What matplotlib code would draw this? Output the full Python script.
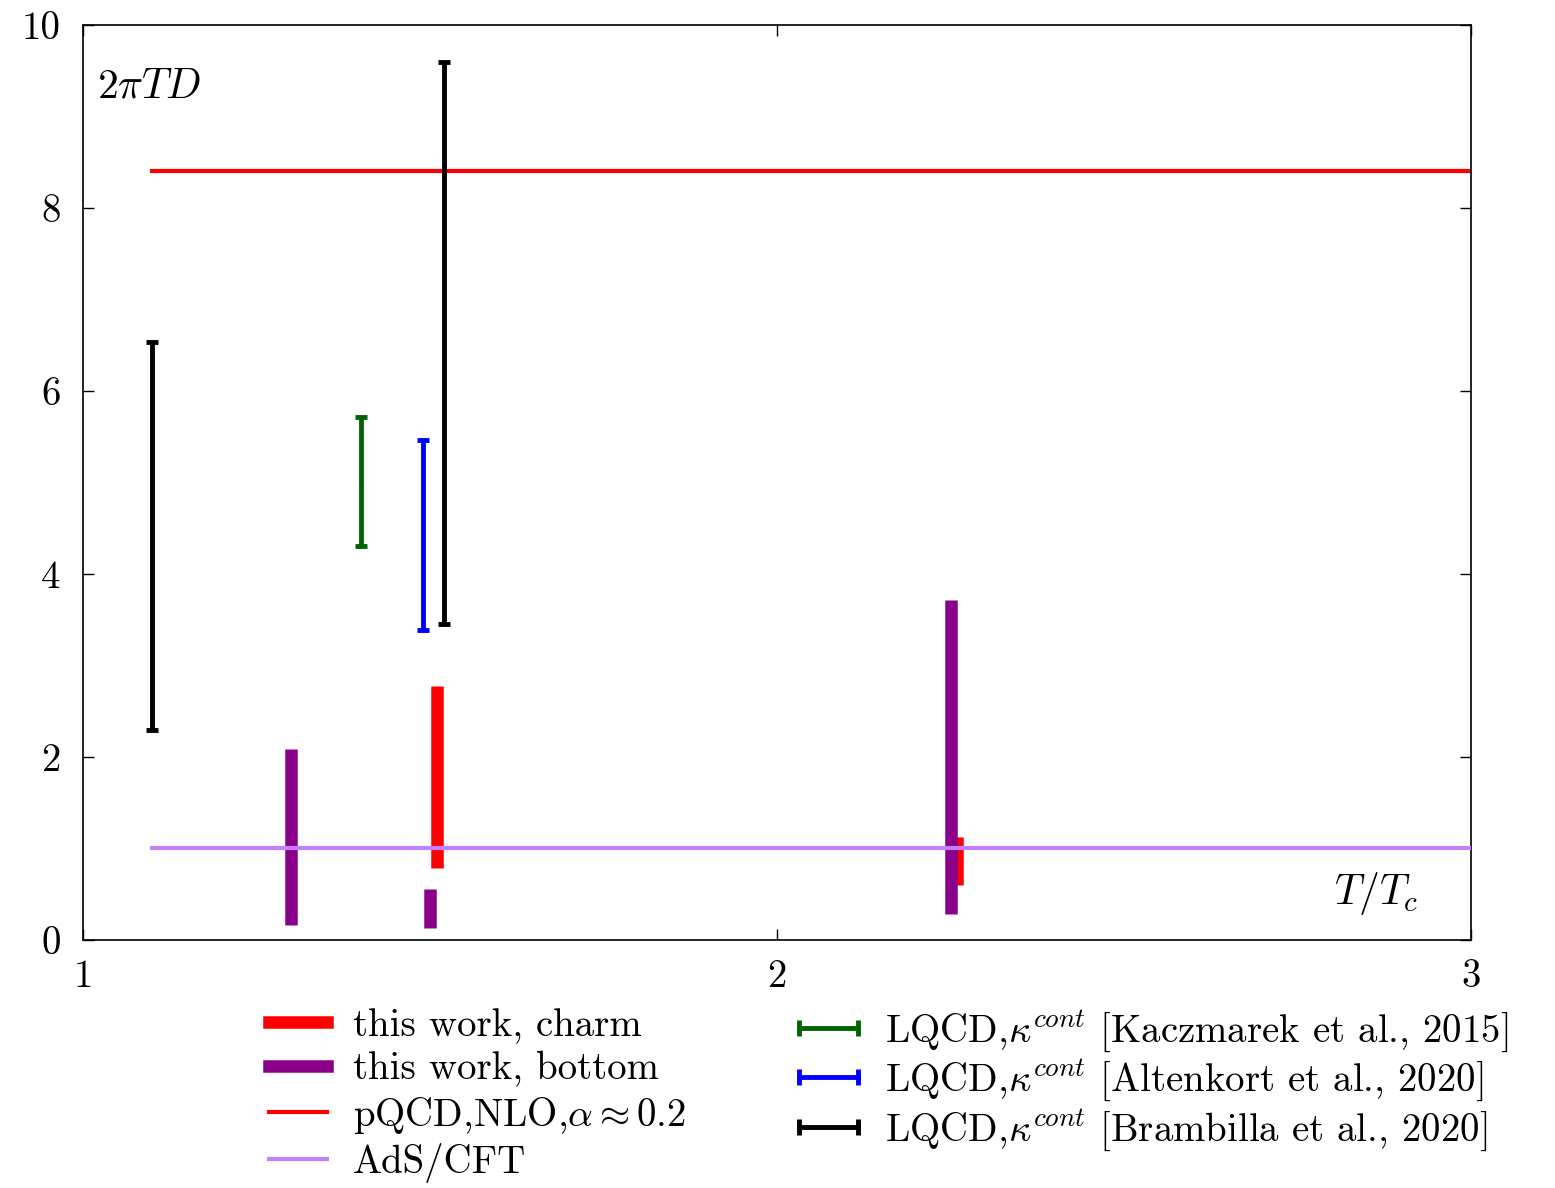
import matplotlib
matplotlib.use("Agg")
import matplotlib.pyplot as plt
from matplotlib.lines import Line2D
import numpy as np

plt.rcParams['font.family'] = 'serif'
plt.rcParams['font.serif'] = ['cmr10']
plt.rcParams['mathtext.fontset'] = 'cm'
plt.rcParams['axes.unicode_minus'] = False
plt.rcParams['font.size'] = 28

# this work, charm
charm_x = np.array([1.51, 2.26])
charm_y = np.array([1.78, 0.86])
charm_lo = np.array([0.79, 0.60])
charm_hi = np.array([2.78, 1.12])

# this work, bottom
bottom_x = np.array([1.30, 1.50, 2.25])
bottom_y = np.array([1.13, 0.35, 2.00])
bottom_lo = np.array([0.16, 0.13, 0.28])
bottom_hi = np.array([2.09, 0.56, 3.71])

# lattice QCD results
kacz_x, kacz_y, kacz_lo, kacz_hi = [1.40], [5.00], [4.30], [5.71]
alten_x, alten_y, alten_lo, alten_hi = [1.49], [4.41], [3.39], [5.46]
bramb_x = np.array([1.10, 1.52])
bramb_y = np.array([4.41, 6.52])
bramb_lo = np.array([2.29, 3.45])
bramb_hi = np.array([6.53, 9.59])

# reference lines
line_x = [1.1, 3.0]
pqcd_y = 8.4
ads_y = 1.0

fig = plt.figure(figsize=(15.55, 11.88), dpi=100)
ax = fig.add_axes([0.0534, 0.2088, 0.8926, 0.7702])


def yerr(y, lo, hi):
    y = np.asarray(y)
    return [y - np.asarray(lo), np.asarray(hi) - y]


ax.plot(line_x, [pqcd_y, pqcd_y], color='#ff0000', lw=3, zorder=1)
ax.plot(line_x, [ads_y, ads_y], color='#c080ff', lw=3, zorder=4)

ax.errorbar(charm_x, charm_y, yerr=yerr(charm_y, charm_lo, charm_hi), fmt='.',
            color='#ff0000', ms=3, elinewidth=9, capsize=0, zorder=2)
ax.errorbar(bottom_x, bottom_y, yerr=yerr(bottom_y, bottom_lo, bottom_hi), fmt='.',
            color='#8b008b', ms=3, elinewidth=9, capsize=0, zorder=3)

lq_style = dict(fmt='.', ms=3, elinewidth=3.5, capsize=4.5, capthick=3.5, zorder=3)
ax.errorbar(kacz_x, kacz_y, yerr=yerr(kacz_y, kacz_lo, kacz_hi), color='#006400', **lq_style)
ax.errorbar(alten_x, alten_y, yerr=yerr(alten_y, alten_lo, alten_hi), color='#0000ff', **lq_style)
ax.errorbar(bramb_x, bramb_y, yerr=yerr(bramb_y, bramb_lo, bramb_hi), color='black', **lq_style)

ax.set_xlim(1, 3)
ax.set_ylim(0, 10)
ax.set_xticks([1, 2, 3])
ax.set_yticks([0, 2, 4, 6, 8, 10])
ax.tick_params(direction='in', length=8, width=1, top=True, right=True, labelsize=28)
ax.tick_params(axis='x', pad=14)
ax.tick_params(axis='y', pad=16)
for s in ax.spines.values():
    s.set_linewidth(1.2)

ax.text(0.01, 0.932, r'$2\pi TD$', transform=ax.transAxes, fontsize=30, va='center', ha='left')
ax.text(0.962, 0.051, r'$T/T_c$', transform=ax.transAxes, fontsize=30, va='center', ha='right')

left_handles = [
    Line2D([], [], color='#ff0000', lw=9),
    Line2D([], [], color='#8b008b', lw=9),
    Line2D([], [], color='#ff0000', lw=3),
    Line2D([], [], color='#c080ff', lw=3),
]
left_labels = [
    'this work, charm',
    'this work, bottom',
    r'pQCD,NLO,$\alpha \approx 0.2$',
    'AdS/CFT',
]
right_handles = [
    Line2D([], [], color='#006400', lw=3.5, marker='|', ms=12, mew=3.5),
    Line2D([], [], color='#0000ff', lw=3.5, marker='|', ms=12, mew=3.5),
    Line2D([], [], color='black', lw=3.5, marker='|', ms=12, mew=3.5),
]
right_labels = [
    r'LQCD,$\kappa^{cont}$ [Kaczmarek et al., 2015]',
    r'LQCD,$\kappa^{cont}$ [Altenkort et al., 2020]',
    r'LQCD,$\kappa^{cont}$ [Brambilla et al., 2020]',
]
leg_style = dict(loc='upper left', frameon=False, borderpad=0, numpoints=2,
                 handlelength=2.1, fontsize=28)
fig.legend(left_handles, left_labels, bbox_to_anchor=(0.153, 0.168),
           labelspacing=0.19, handletextpad=0.35, **leg_style)
fig.legend(right_handles, right_labels, bbox_to_anchor=(0.494, 0.168),
           labelspacing=0.1, handletextpad=0.4, **leg_style)

fig.savefig('out.png', dpi=100)
